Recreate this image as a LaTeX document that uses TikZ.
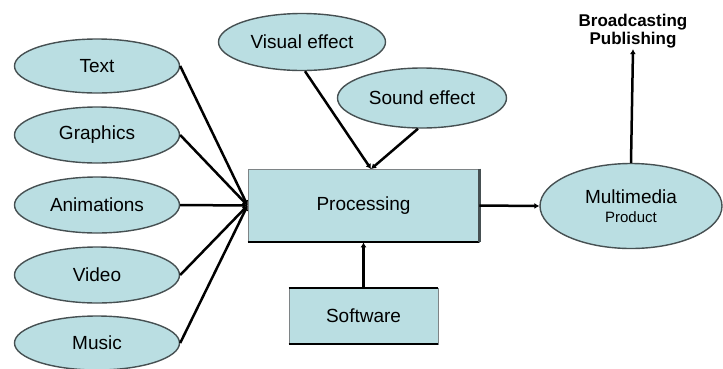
\documentclass[tikz,border=0pt]{standalone}
\usepackage{fontspec}
\setmainfont{Liberation Sans}
\usetikzlibrary{shapes.geometric,arrows.meta}
\definecolor{boxfill}{RGB}{186,222,226}
\definecolor{edgegray}{RGB}{70,80,82}
\tikzset{
  ell/.style={ellipse, fill=boxfill, draw=edgegray, line width=1.4pt, inner sep=0pt,
    font=\fontsize{19}{21}\selectfont},
  inbox/.style={rectangle, fill=boxfill, draw=edgegray!70, line width=0.8pt, inner sep=0pt,
    font=\fontsize{19}{21}\selectfont},
  link/.style={line width=2.5pt, black},
  tip/.style={-{Latex[length=5pt,width=6pt]}}
}
\begin{document}
\begin{tikzpicture}[x=1pt,y=-1pt]
\useasboundingbox (0,0) rectangle (723,368);

% input sources
\node[ell, minimum width=165pt, minimum height=54pt] (text) at (97,66) {Text};
\node[ell, minimum width=165pt, minimum height=56pt] (graph) at (97,135) {Graphics};
\node[ell, minimum width=165pt, minimum height=56pt] (anim) at (97,205) {Animations};
\node[ell, minimum width=165pt, minimum height=56pt] (video) at (97,275) {Video};
\node[ell, minimum width=165pt, minimum height=54pt] (music) at (97,343) {Music};

% effects
\node[ell, minimum width=167pt, minimum height=57pt] (visual) at (302,42) {Visual effect};
\node[ell, minimum width=169pt, minimum height=60pt] (sound) at (422,98) {Sound effect};

% processing and software
\node[inbox, minimum width=231pt, minimum height=73pt] (proc) at (363.5,205.5) {Processing};
\draw[line width=2pt] (proc.south west) -- (proc.south east);
\draw[line width=2.5pt, edgegray] (proc.north east) -- (proc.south east);
\node[inbox, minimum width=149pt, minimum height=56pt] (soft) at (363.5,316) {Software};
\draw[line width=2pt] (soft.north west) -- (soft.north east);
\draw[line width=2pt] (soft.south west) -- (soft.south east);

% product
\node[ell, minimum width=182pt, minimum height=85pt, align=center] (mm) at (631,206)
  {Multimedia\\[-2pt]{\fontsize{15}{17}\selectfont Product}};
\node[font=\bfseries\fontsize{17}{18}\selectfont, align=center, inner sep=1pt] (pub) at (633,31)
  {Broadcasting\\Publishing};

\coordinate (pin) at (proc.west);
\coordinate (ptop) at (371,169);

% connectors
\foreach \s in {text,graph,anim,video,music}
  \draw[link, tip] (\s.east) -- (pin);
\draw[link, tip] (visual.south) ++(3,0) -- (ptop);
\draw[link, tip] (sound.south) ++(-4,0) -- (ptop);
\draw[link, tip] (soft.north) -- (proc.south);
\draw[link, tip] (proc.east) -- (mm.west);
\draw[link, tip] (mm.north) -- (pub.south);
\end{tikzpicture}
\end{document}
